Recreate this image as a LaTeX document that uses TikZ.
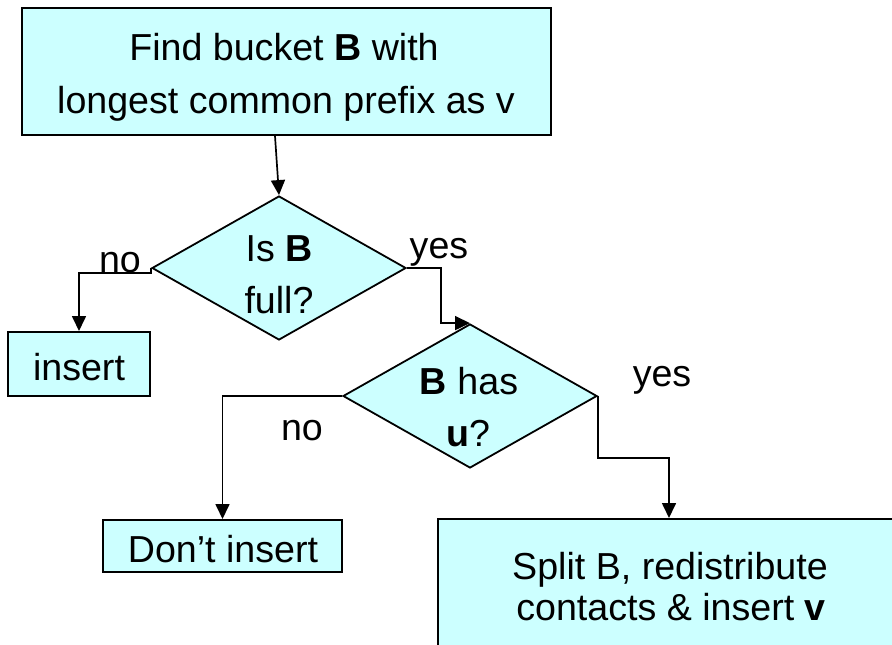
\documentclass[tikz,border=0pt]{standalone}
\usepackage{fontspec}
\setmainfont{Liberation Sans}
\usetikzlibrary{shapes.geometric,arrows.meta,calc}

\definecolor{boxfill}{HTML}{CCFFFF}

\tikzset{
  every node/.style={font=\fontsize{37.6}{44}\selectfont},
  stepbox/.style={draw=black, line width=2pt, fill=boxfill, rectangle, inner sep=0pt},
  decide/.style={draw=black, line width=1.8pt, fill=boxfill, diamond, inner sep=0pt,
                 minimum width=254pt, minimum height=144pt},
  txt/.style={anchor=base, inner sep=0pt},
  flow/.style={line width=1.7pt, -{Triangle[length=15pt,width=14pt]}},
}

\begin{document}
\begin{tikzpicture}[x=1pt, y=-1pt]
  \useasboundingbox (0,0) rectangle (892,645);
  \clip (0,0) rectangle (892,645);

  % process boxes
  \node[stepbox, minimum width=529pt, minimum height=127pt] (find) at (286.5,71.5) {};
  \node[stepbox, minimum width=142pt, minimum height=64pt] (ins) at (79,364) {};
  \node[stepbox, minimum width=239pt, minimum height=52pt] (dont) at (222.5,546) {};
  \node[stepbox, minimum width=520pt, minimum height=180pt] (split) at (698,609) {};

  % decisions
  \node[decide] (full) at (279,268) {};
  \node[decide] (hasu) at (470,396) {};

  % box texts
  \node[txt] (t1) at (284,60) {Find bucket \textbf{B} with};
  \node[txt] (t2) at (286,113) {longest common prefix as v};
  \node[txt] (t3) at (279,261) {Is \textbf{B}};
  \node[txt] (t4) at (279,313) {full?};
  \node[txt] (t5) at (79,380) {insert};
  \node[txt] (t6) at (469,394) {\textbf{B} has};
  \node[txt] (t7) at (468,446) {\textbf{u}?};
  \node[txt] (t8) at (223,562) {Don’t insert};
  \node[txt] (t9) at (670,579) {Split B, redistribute};
  \node[txt] (t10) at (671,620) {contacts \& insert \textbf{v}};

  % branch labels
  \node[txt] (no1) at (120,272) {no};
  \node[txt] (yes1) at (439,258) {yes};
  \node[txt] (no2) at (302,440) {no};
  \node[txt] (yes2) at (662,386) {yes};

  % connectors
  \draw[flow] ([xshift=-11.5pt]find.south) -- (full.north);
  \draw[flow] (full.west) -- ++(0,5) -| (ins.north);
  \draw[flow] (full.east) -- ++(34,0) |- (hasu.north);
  \draw[flow] (hasu.west) -| (dont.north);
  \coordinate (splitin) at ($(split.north west)+(232,0)$);
  \draw[flow] (hasu.east) -- ++(0,62) -| (splitin);
\end{tikzpicture}
\end{document}
